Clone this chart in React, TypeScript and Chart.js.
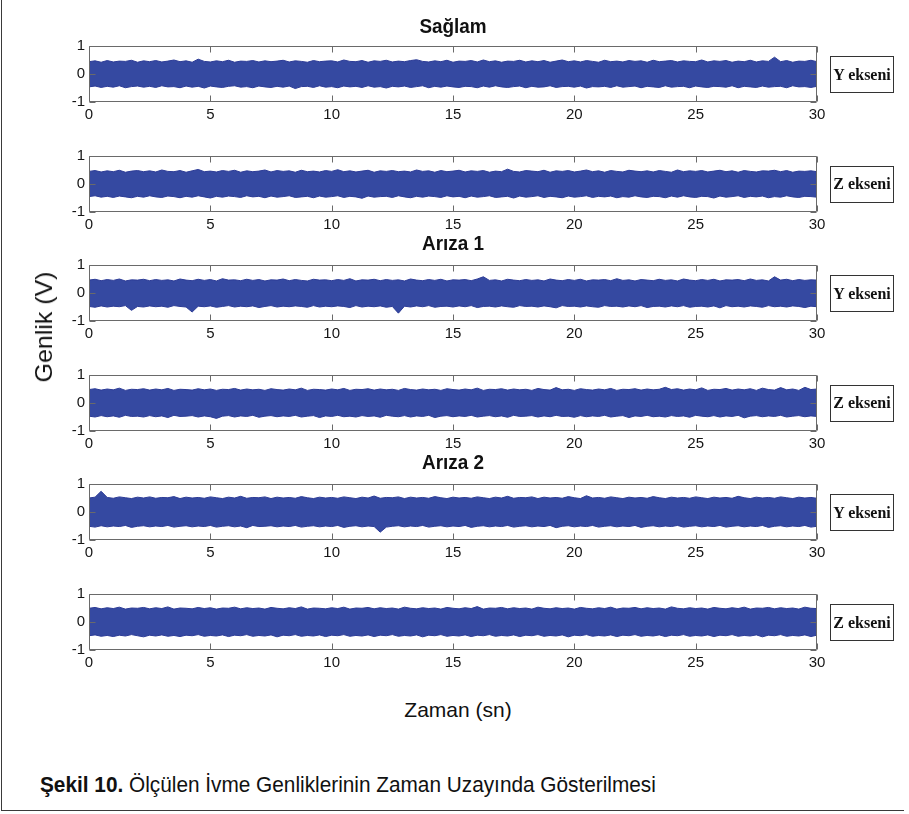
import React, { useEffect, useRef } from "react";
import { Chart, registerables } from "chart.js";

Chart.register(...registerables);

// ---------- DATA (amplitudes in hundredths of a volt, envelope read per 0.25 s) ----------
const TIME = [
  0, 0.25, 0.5, 0.75, 1, 1.25, 1.5, 1.75, 2, 2.25, 2.5, 2.75, 3, 3.25, 3.5, 3.75, 4, 4.25, 4.5, 4.75,
  5, 5.25, 5.5, 5.75, 6, 6.25, 6.5, 6.75, 7, 7.25, 7.5, 7.75, 8, 8.25, 8.5, 8.75, 9, 9.25, 9.5, 9.75,
  10, 10.25, 10.5, 10.75, 11, 11.25, 11.5, 11.75, 12, 12.25, 12.5, 12.75, 13, 13.25, 13.5, 13.75, 14, 14.25, 14.5, 14.75,
  15, 15.25, 15.5, 15.75, 16, 16.25, 16.5, 16.75, 17, 17.25, 17.5, 17.75, 18, 18.25, 18.5, 18.75, 19, 19.25, 19.5, 19.75,
  20, 20.25, 20.5, 20.75, 21, 21.25, 21.5, 21.75, 22, 22.25, 22.5, 22.75, 23, 23.25, 23.5, 23.75, 24, 24.25, 24.5, 24.75,
  25, 25.25, 25.5, 25.75, 26, 26.25, 26.5, 26.75, 27, 27.25, 27.5, 27.75, 28, 28.25, 28.5, 28.75, 29, 29.25, 29.5, 29.75,
  30,
];

const X_TICKS = [0, 5, 10, 15, 20, 25, 30];
const Y_TICKS = [-1, 0, 1];

const SAGLAM_Y_UP = [
  44,47,42,48,43,46,45,49,42,47, 44,48,43,46,50,44,47,42,53,45, 43,47,44,49,42,46,45,48,43,47,
  44,46,49,43,47,45,42,48,44,46, 47,43,50,45,44,48,42,47,45,49, 43,46,44,48,51,45,43,47,44,49,
  42,46,45,48,43,50,44,47,42,46, 45,49,43,47,44,48,42,46,50,44, 47,43,48,45,42,49,44,46,43,48,
  45,47,42,49,44,46,48,43,47,45, 44,50,43,47,45,48,42,46,44,49, 43,47,45,60,44,48,42,46,45,49,
  44,
];
const SAGLAM_Y_LOW = [
  -46,-43,-48,-44,-47,-42,-49,-45,-43,-47, -44,-48,-42,-46,-45,-49,-43,-47,-44,-50, -43,-46,-48,-44,-42,-47,-45,-49,-43,-46,
  -48,-44,-47,-43,-52,-45,-44,-48,-42,-47, -45,-49,-43,-46,-44,-48,-42,-47,-45,-50, -44,-46,-43,-48,-45,-42,-49,-44,-47,-43,
  -46,-48,-44,-45,-49,-43,-47,-42,-46,-48, -45,-43,-49,-44,-47,-46,-42,-48,-45,-44, -47,-43,-50,-45,-46,-44,-48,-42,-47,-45,
  -43,-49,-44,-46,-48,-42,-47,-45,-44,-49, -43,-46,-48,-44,-45,-47,-42,-49,-44,-46, -48,-43,-47,-45,-44,-49,-42,-46,-45,-48,
  -44,
];
const SAGLAM_Z_UP = [
  45,48,43,47,44,49,42,46,48,44, 47,43,50,45,44,48,42,47,52,44, 46,43,48,45,49,42,47,44,46,50,
  43,48,45,47,42,49,44,46,43,48, 45,51,44,47,43,46,49,42,47,45, 48,44,46,43,50,45,47,42,48,44,
  46,49,43,47,45,48,42,46,44,53, 45,43,48,46,44,49,42,47,45,48, 43,46,50,44,47,42,48,45,43,49,
  46,44,47,43,48,45,42,50,44,47, 45,48,43,46,49,44,47,42,48,45, 43,47,46,49,44,48,42,46,45,47,
  44,
];
const SAGLAM_Z_LOW = [
  -45,-42,-47,-44,-48,-43,-46,-49,-44,-47, -42,-46,-48,-43,-45,-49,-44,-47,-42,-46, -50,-44,-47,-43,-45,-48,-42,-46,-44,-49,
  -43,-47,-45,-42,-48,-46,-44,-49,-43,-47, -45,-42,-48,-44,-46,-51,-43,-47,-45,-44, -48,-42,-46,-49,-44,-47,-43,-45,-48,-42,
  -46,-44,-49,-43,-47,-45,-42,-48,-46,-44, -50,-43,-47,-45,-42,-48,-44,-46,-49,-43, -47,-45,-42,-48,-44,-46,-43,-49,-45,-47,
  -42,-46,-48,-44,-45,-49,-43,-47,-42,-46, -48,-44,-45,-50,-43,-47,-45,-42,-48,-44, -46,-43,-49,-45,-47,-42,-46,-48,-44,-45,
  -47,
];
const ARIZA1_Y_UP = [
  46,49,44,48,45,50,43,47,46,49, 44,48,45,47,43,50,46,44,49,45, 48,43,51,46,47,44,49,45,48,43,
  47,46,50,44,48,45,43,49,46,47, 44,48,45,51,43,47,46,49,44,48, 45,47,43,50,46,44,48,45,49,43,
  47,46,48,44,50,58,45,47,43,49, 46,44,48,45,47,43,50,46,44,48, 45,49,43,47,46,48,44,51,45,47,
  43,48,46,44,49,45,47,43,50,46, 44,48,45,49,43,47,46,48,44,50, 45,47,43,58,46,49,44,48,45,47,
  46,
];
const ARIZA1_Y_LOW = [
  -48,-51,-46,-50,-47,-49,-45,-62,-48,-50, -46,-49,-47,-51,-45,-48,-50,-68,-47,-49, -46,-51,-48,-45,-50,-47,-49,-46,-52,-48,
  -45,-50,-47,-49,-46,-48,-51,-45,-50,-47, -49,-46,-48,-52,-45,-50,-47,-49,-46,-51, -48,-72,-47,-50,-46,-49,-45,-51,-48,-47,
  -50,-46,-49,-45,-52,-48,-47,-50,-46,-49, -51,-45,-48,-47,-50,-46,-49,-53,-45,-48, -47,-50,-46,-49,-51,-45,-48,-47,-50,-46,
  -49,-45,-52,-48,-47,-50,-46,-49,-45,-51, -48,-47,-50,-46,-53,-45,-49,-47,-50,-46, -48,-51,-45,-49,-47,-50,-46,-48,-52,-47,
  -49,
];
const ARIZA1_Z_UP = [
  48,51,46,50,47,53,45,49,48,51, 46,50,47,52,45,49,48,46,51,47, 50,45,49,48,52,46,50,47,49,45,
  51,48,46,50,47,53,45,49,48,46, 50,47,52,45,49,48,51,46,50,47, 49,45,52,48,46,50,47,49,45,51,
  48,46,50,47,53,45,49,48,51,46, 50,47,49,45,52,48,46,55,47,49, 45,51,48,46,50,47,52,45,49,48,
  51,46,50,47,49,56,48,51,46,50, 47,54,45,49,48,52,46,50,47,51, 45,53,48,46,55,47,50,45,56,48,
  50,
];
const ARIZA1_Z_LOW = [
  -47,-50,-45,-49,-46,-51,-44,-48,-47,-50, -45,-49,-46,-52,-44,-48,-47,-45,-50,-46, -49,-55,-47,-45,-50,-46,-48,-44,-51,-47,
  -45,-49,-46,-48,-44,-50,-47,-45,-52,-46, -48,-44,-49,-47,-50,-45,-48,-46,-51,-44, -47,-49,-45,-50,-46,-48,-44,-52,-47,-45,
  -49,-46,-48,-44,-50,-47,-45,-49,-46,-51, -44,-48,-47,-45,-50,-46,-49,-44,-48,-47, -51,-45,-49,-46,-48,-44,-50,-47,-45,-52,
  -46,-48,-44,-49,-47,-50,-45,-48,-46,-51, -44,-47,-49,-45,-50,-46,-48,-44,-53,-47, -45,-49,-46,-48,-44,-50,-47,-45,-49,-46,
  -48,
];
const ARIZA2_Y_UP = [
  50,53,74,52,49,54,51,48,53,50, 54,49,52,51,55,48,53,50,52,49, 54,51,48,53,50,56,49,52,51,54,
  48,53,50,52,49,55,51,48,53,50, 52,49,54,51,48,53,50,57,49,52, 51,54,48,53,50,52,49,55,51,48,
  53,50,52,49,54,51,48,53,50,56, 49,52,51,54,48,53,50,52,49,55, 51,48,58,50,52,49,54,51,48,53,
  50,52,49,55,51,48,53,50,52,49, 54,51,48,53,50,52,49,56,51,48, 53,50,52,49,54,51,48,53,50,52,
  49,
];
const ARIZA2_Y_LOW = [
  -51,-54,-49,-53,-50,-52,-48,-55,-51,-49, -53,-50,-52,-48,-54,-51,-49,-53,-50,-52, -48,-54,-51,-49,-53,-50,-56,-48,-52,-51,
  -49,-53,-50,-52,-48,-54,-51,-49,-53,-50, -52,-48,-55,-51,-49,-53,-50,-52,-72,-54, -51,-49,-53,-50,-52,-48,-54,-51,-49,-53,
  -50,-52,-48,-55,-51,-49,-53,-50,-52,-48, -54,-51,-49,-53,-50,-52,-48,-56,-51,-49, -53,-50,-52,-48,-54,-51,-49,-53,-50,-52,
  -48,-55,-51,-49,-53,-50,-52,-48,-54,-51, -49,-53,-50,-52,-48,-54,-51,-49,-53,-50, -52,-48,-55,-51,-49,-53,-50,-52,-48,-54,
  -51,
];
const ARIZA2_Z_UP = [
  49,52,47,51,48,53,46,50,49,52, 47,51,48,54,46,50,49,47,52,48, 51,46,50,49,53,47,51,48,50,46,
  52,49,47,51,48,54,46,50,49,47, 51,48,53,46,50,49,52,47,51,48, 50,46,53,49,47,51,48,50,46,52,
  49,47,51,48,55,46,50,49,52,47, 51,48,50,46,53,49,47,51,48,50, 46,52,49,47,51,48,53,46,50,49,
  52,47,51,48,50,46,54,49,47,51, 48,50,46,52,49,47,51,48,53,46, 50,49,52,47,51,48,50,46,53,49,
  48,
];
const ARIZA2_Z_LOW = [
  -49,-46,-51,-48,-52,-47,-50,-45,-49,-53, -47,-50,-46,-51,-48,-52,-47,-49,-45,-51, -48,-50,-46,-52,-47,-49,-45,-51,-48,-50,
  -46,-53,-47,-49,-45,-51,-48,-50,-46,-52, -47,-49,-45,-51,-48,-50,-46,-52,-47,-49, -45,-51,-48,-50,-46,-53,-47,-49,-45,-51,
  -48,-50,-46,-52,-47,-49,-45,-51,-48,-50, -46,-52,-47,-49,-45,-51,-48,-50,-46,-53, -47,-49,-45,-51,-48,-50,-46,-52,-47,-49,
  -45,-51,-48,-50,-46,-52,-47,-49,-45,-51, -48,-50,-46,-52,-47,-49,-45,-51,-48,-50, -46,-53,-47,-49,-45,-51,-48,-50,-46,-52,
  -47,
];

const GROUP_TITLES = ["Sağlam", "Arıza 1", "Arıza 2"];
const AXIS_LABELS = ["Y ekseni", "Z ekseni", "Y ekseni", "Z ekseni", "Y ekseni", "Z ekseni"];
const Y_TITLE = "Genlik (V)";
const X_TITLE = "Zaman (sn)";
const CAPTION_BOLD = "Şekil 10.";
const CAPTION_TEXT = " Ölçülen İvme Genliklerinin Zaman Uzayında Gösterilmesi";

const SERIES = [
  [SAGLAM_Y_UP, SAGLAM_Y_LOW],
  [SAGLAM_Z_UP, SAGLAM_Z_LOW],
  [ARIZA1_Y_UP, ARIZA1_Y_LOW],
  [ARIZA1_Z_UP, ARIZA1_Z_LOW],
  [ARIZA2_Y_UP, ARIZA2_Y_LOW],
  [ARIZA2_Z_UP, ARIZA2_Z_LOW],
];

// ---------- LAYOUT ----------
const PLOT_TOPS = [46, 155.5, 265, 374.5, 484, 594];
const PLOT_H = 56;
const PLOT_LEFT = 89;
const PLOT_RIGHT = 817;
const CANVAS_LEFT = 40;
const CANVAS_W = 800;
const PAD_TOP = 14;
const X_AXIS_H = 30;
const TITLE_CENTERS = [26, 243, 462];

const FILL = "#3549a1";
const EDGE = "#2c3b96";
const AXIS_COLOR = "#6a6a6a";
const SANS = "'Liberation Sans', Arial, Helvetica, sans-serif";
const SERIF = "'Liberation Serif', 'Times New Roman', serif";

const axesBox = {
  id: "axesBox",
  afterDatasetsDraw(chart: any) {
    const { ctx, chartArea, scales } = chart;
    const { left, right, top, bottom } = chartArea;
    const L = Math.round(left) + 0.5;
    const R = Math.round(right) - 0.5;
    const T = Math.round(top) + 0.5;
    const B = Math.round(bottom) - 0.5;
    ctx.save();
    ctx.strokeStyle = AXIS_COLOR;
    ctx.lineWidth = 1;
    ctx.beginPath();
    ctx.rect(L, T, R - L, B - T);
    const tl = 6;
    X_TICKS.forEach((v) => {
      const px = Math.round(scales.x.getPixelForValue(v)) + 0.5;
      ctx.moveTo(px, B);
      ctx.lineTo(px, B - tl);
      ctx.moveTo(px, T);
      ctx.lineTo(px, T + tl);
    });
    Y_TICKS.forEach((v) => {
      const py = Math.round(scales.y.getPixelForValue(v)) + 0.5;
      ctx.moveTo(L, py);
      ctx.lineTo(L + tl, py);
      ctx.moveTo(R, py);
      ctx.lineTo(R - tl, py);
    });
    ctx.stroke();
    ctx.restore();
  },
};

function Panel({ index }: { index: number }) {
  const ref = useRef<HTMLCanvasElement>(null);
  useEffect(() => {
    const canvas = ref.current;
    if (!canvas) return;
    const [up, low] = SERIES[index];
    const upPts = TIME.map((t, i) => ({ x: t, y: up[i] / 100 }));
    const lowPts = TIME.map((t, i) => ({ x: t, y: low[i] / 100 }));
    const chart = new Chart(canvas, {
      type: "line",
      data: {
        datasets: [
          { data: upPts, borderColor: EDGE, borderWidth: 1, pointRadius: 0, fill: false, tension: 0 },
          { data: lowPts, borderColor: EDGE, borderWidth: 1, pointRadius: 0, fill: "-1", backgroundColor: FILL, tension: 0 },
        ],
      },
      options: {
        animation: false,
        responsive: false,
        maintainAspectRatio: false,
        events: [],
        layout: { padding: { left: 0, right: CANVAS_LEFT + CANVAS_W - PLOT_RIGHT, top: PAD_TOP, bottom: 0 } },
        plugins: { legend: { display: false }, tooltip: { enabled: false }, title: { display: false } },
        scales: {
          x: {
            type: "linear",
            min: 0,
            max: 30,
            grid: { display: false, drawTicks: false },
            border: { display: false },
            ticks: { stepSize: 5, padding: 4, autoSkip: false, maxRotation: 0, color: "#151515", font: { family: SANS, size: 15 } },
            afterFit: (s: any) => {
              s.height = X_AXIS_H;
            },
          },
          y: {
            type: "linear",
            min: -1,
            max: 1,
            grid: { display: false, drawTicks: false },
            border: { display: false },
            ticks: { stepSize: 1, padding: 4, color: "#151515", font: { family: SANS, size: 15 } },
            afterFit: (s: any) => {
              s.width = PLOT_LEFT - CANVAS_LEFT;
            },
          },
        },
      } as any,
      plugins: [axesBox],
    });
    return () => chart.destroy();
  }, [index]);
  const top = PLOT_TOPS[index] - PAD_TOP;
  return (
    <canvas
      ref={ref}
      width={CANVAS_W}
      height={PAD_TOP + PLOT_H + X_AXIS_H}
      style={{ position: "absolute", left: CANVAS_LEFT, top, width: CANVAS_W, height: PAD_TOP + PLOT_H + X_AXIS_H }}
    />
  );
}

export default function App() {
  return (
    <div style={{ position: "absolute", left: 0, top: 0, width: 909, height: 814, background: "#fff", overflow: "hidden" }}>
      <div
        style={{
          position: "absolute",
          left: 1,
          top: -4,
          width: 903,
          height: 815,
          borderLeft: "1.5px solid #3a3a3a",
          borderBottom: "1.5px solid #3a3a3a",
          boxSizing: "border-box",
        }}
      />
      {SERIES.map((_, i) => (
        <Panel key={i} index={i} />
      ))}
      {GROUP_TITLES.map((t, i) => (
        <div
          key={t}
          style={{
            position: "absolute",
            left: (PLOT_LEFT + PLOT_RIGHT) / 2 - 100,
            width: 200,
            top: TITLE_CENTERS[i] - 13,
            height: 26,
            lineHeight: "26px",
            textAlign: "center",
            fontFamily: SANS,
            fontWeight: 700,
            fontSize: 21,
            color: "#111",
            transform: "scaleX(0.9)",
          }}
        >
          {t}
        </div>
      ))}
      {AXIS_LABELS.map((t, i) => (
        <div
          key={i}
          style={{
            position: "absolute",
            left: 830,
            top: PLOT_TOPS[i] + PLOT_H / 2 - 18,
            width: 64,
            height: 37,
            boxSizing: "border-box",
            border: "1px solid #333",
            display: "flex",
            alignItems: "center",
            justifyContent: "center",
            fontFamily: SERIF,
            fontWeight: 700,
            fontSize: 16,
            color: "#111",
            whiteSpace: "nowrap",
          }}
        >
          {t}
        </div>
      ))}
      <div
        style={{
          position: "absolute",
          left: 44 - 80,
          top: 327 - 14,
          width: 160,
          height: 28,
          lineHeight: "28px",
          textAlign: "center",
          fontFamily: SANS,
          fontSize: 24,
          color: "#111",
          transform: "rotate(-90deg) scaleX(1.04)",
          whiteSpace: "nowrap",
        }}
      >
        {Y_TITLE}
      </div>
      <div
        style={{
          position: "absolute",
          left: 458 - 100,
          top: 710 - 14,
          width: 200,
          height: 28,
          lineHeight: "28px",
          textAlign: "center",
          fontFamily: SANS,
          fontSize: 21,
          color: "#111",
          whiteSpace: "nowrap",
        }}
      >
        {X_TITLE}
      </div>
      <div
        style={{
          position: "absolute",
          left: 40,
          top: 785 - 14,
          height: 28,
          lineHeight: "28px",
          fontFamily: SANS,
          fontSize: 22,
          color: "#111",
          whiteSpace: "nowrap",
          transform: "scaleX(0.945)",
          transformOrigin: "left center",
        }}
      >
        <b>{CAPTION_BOLD}</b>
        {CAPTION_TEXT}
      </div>
    </div>
  );
}
